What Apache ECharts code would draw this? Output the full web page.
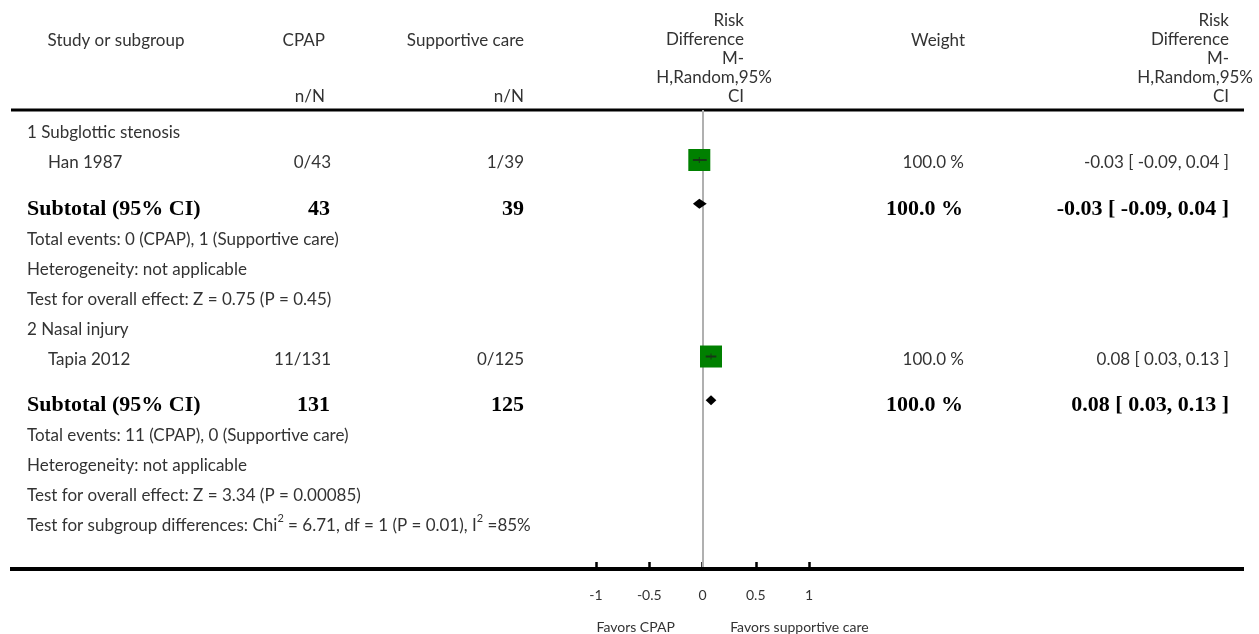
<!DOCTYPE html>
<html>
<head>
<meta charset="utf-8">
<script src="https://cdn.jsdelivr.net/npm/echarts@6/dist/echarts.min.js"></script>
<style>
  html, body { margin: 0; padding: 0; background: #ffffff; }
  #chart { width: 1259px; height: 634px; }
</style>
</head>
<body>
<div id="chart"></div>
<script>
// Risk difference axis
const axisMin = -1;
const axisMax = 1;
const axisStep = 0.5;
const favorsLeft = 'Favors CPAP';
const favorsRight = 'Favors supportive care';

// Subgroups
const groupTitles = ['1 Subglottic stenosis', '2 Nasal injury'];

// Individual studies (one per subgroup)
const studyNames = ['Han 1987', 'Tapia 2012'];
const studyCpap = ['0/43', '11/131'];
const studyCare = ['1/39', '0/125'];
const studyWeight = [100.0, 100.0];
const studyEst = [-0.03, 0.08];
const studyLow = [-0.09, 0.03];
const studyHigh = [0.04, 0.13];

// Subgroup totals
const subtotalCpap = [43, 131];
const subtotalCare = [39, 125];
const subtotalWeight = [100.0, 100.0];
const subtotalEst = [-0.03, 0.08];
const subtotalLow = [-0.09, 0.03];
const subtotalHigh = [0.04, 0.13];

// Subgroup statistics
const totalEvents = ['Total events: 0 (CPAP), 1 (Supportive care)', 'Total events: 11 (CPAP), 0 (Supportive care)'];
const heterogeneity = ['Heterogeneity: not applicable', 'Heterogeneity: not applicable'];
const overallEffect = ['Test for overall effect: Z = 0.75 (P = 0.45)', 'Test for overall effect: Z = 3.34 (P = 0.00085)'];

// ---- layout ----
const FONT = 'Lato, "Open Sans", sans-serif';
const SERIF = '"Liberation Serif", "DejaVu Serif", serif';
const TEXT = '#333333';
const FS = 17;
const GRID_TOP = 110, GRID_BOTTOM_PX = 569;
const ROW_PAD = 0.167, ROW_MAX = 15.3;
const SUBTOTAL_H = 1.55, SUBTOTAL_ANCHOR = 0.62;
const TEXT_DY = 3, BOLD_DY = 5;
const SQUARE_MAX = 22, DIAMOND_HALF_H = 5;

// Build row list (row heights in row units; anchor = where the mark sits inside the row)
const rows = [];
let cursor = ROW_PAD;
function addRow(kind, idx, h, anchor) {
  rows.push({ kind: kind, idx: idx, pos: cursor + h * (anchor == null ? 0.5 : anchor) });
  cursor += h;
}
for (let g = 0; g < groupTitles.length; g++) {
  addRow('title', g, 1);
  addRow('study', g, 1);
  addRow('subtotal', g, SUBTOTAL_H, SUBTOTAL_ANCHOR);
  addRow('events', g, 1);
  addRow('het', g, 1);
  addRow('overall', g, 1);
}
addRow('subgroupTest', 0, 1);

function fmt2(v) { return v.toFixed(2); }
function rdText(e, l, h) { return fmt2(e) + ' [ ' + fmt2(l) + ', ' + fmt2(h) + ' ]'; }

// Forest marks: [est, low, high, rowPos, kind(0 study / 1 subtotal), weight]
const markData = [];
rows.forEach(function (r) {
  if (r.kind === 'study') markData.push([studyEst[r.idx], studyLow[r.idx], studyHigh[r.idx], r.pos, 0, studyWeight[r.idx]]);
  if (r.kind === 'subtotal') markData.push([subtotalEst[r.idx], subtotalLow[r.idx], subtotalHigh[r.idx], r.pos, 1, subtotalWeight[r.idx]]);
});

function renderMark(params, api) {
  const est = api.value(0), lo = api.value(1), hi = api.value(2), row = api.value(3);
  const kind = api.value(4), w = api.value(5);
  const c = api.coord([est, row]);
  const pl = api.coord([lo, row]);
  const ph = api.coord([hi, row]);
  if (kind === 0) {
    const s = SQUARE_MAX * Math.sqrt(w / 100);
    return {
      type: 'group',
      children: [
        { type: 'rect', shape: { x: c[0] - s / 2, y: c[1] - s / 2, width: s, height: s }, style: { fill: '#008000' } },
        { type: 'line', shape: { x1: pl[0], y1: c[1], x2: ph[0], y2: c[1] }, style: { stroke: '#173817', lineWidth: 2 } },
        { type: 'line', shape: { x1: c[0], y1: c[1] - 3, x2: c[0], y2: c[1] + 3 }, style: { stroke: '#173817', lineWidth: 1 } }
      ]
    };
  }
  return {
    type: 'polygon',
    shape: { points: [[pl[0], c[1]], [c[0], c[1] - DIAMOND_HALF_H], [ph[0], c[1]], [c[0], c[1] + DIAMOND_HALF_H]] },
    style: { fill: '#000000' }
  };
}

const chart = echarts.init(document.getElementById('chart'), null, { renderer: 'canvas' });

chart.setOption({
  animation: false,
  backgroundColor: '#ffffff',
  grid: { left: 596, right: 450, top: GRID_TOP, bottom: 634 - GRID_BOTTOM_PX, containLabel: false },
  xAxis: {
    type: 'value', position: 'bottom', min: axisMin, max: axisMax, interval: axisStep,
    axisLine: { show: false, onZero: false },
    splitLine: { show: false },
    axisTick: { show: true, inside: true, length: 7, lineStyle: { color: '#000', width: 2.5 } },
    axisLabel: {
      color: TEXT, fontFamily: FONT, fontSize: 14, margin: 19,
      formatter: function (v) { return String(v); }
    }
  },
  yAxis: {
    type: 'value', inverse: true, min: 0, max: ROW_MAX, show: false
  },
  series: [{
    type: 'custom',
    renderItem: renderMark,
    data: markData,
    clip: false,
    z: 5,
    markLine: {
      silent: true, symbol: 'none', z: 1,
      label: { show: false },
      lineStyle: { color: '#b0b0b0', width: 2, type: 'solid' },
      data: [{ xAxis: 0 }]
    }
  }]
});

// ---- table text ----
const g = [];
function txt(x, y, s, align, opts) {
  opts = opts || {};
  g.push({
    type: 'text', x: x, y: y, silent: true, z: 10,
    style: {
      text: s, x: 0, y: 0,
      align: align, verticalAlign: 'middle',
      fill: opts.color || TEXT,
      font: (opts.bold ? 'bold ' : '') + (opts.size || FS) + 'px ' + (opts.family || FONT)
    }
  });
}
const bold = { bold: true, size: 22, family: SERIF, color: '#000000' };

// horizontal rules
g.push({ type: 'line', silent: true, shape: { x1: 11, y1: 110, x2: 1244, y2: 110 }, style: { stroke: '#000', lineWidth: 3 } });
g.push({ type: 'line', silent: true, shape: { x1: 10, y1: 569, x2: 1244, y2: 569 }, style: { stroke: '#000', lineWidth: 4 }, z: 8 });

// column headers
txt(116, 41, 'Study or subgroup', 'center');
txt(325, 41, 'CPAP', 'right');
txt(325, 97, 'n/N', 'right');
txt(524, 41, 'Supportive care', 'right');
txt(524, 97, 'n/N', 'right');
txt(965, 41, 'Weight', 'right');
const rdHead = ['Risk', 'Difference', 'M-', 'H,Random,95%', 'CI'];
const rdHeadY = [21, 40, 59, 78, 97];
rdHead.forEach(function (s, i) {
  const wide = s.length > 10;
  txt(wide ? 772 : 744, rdHeadY[i], s, 'right');
  txt(wide ? 1253 : 1229, rdHeadY[i], s, 'right');
});

function rowY(pos) { return chart.convertToPixel({ yAxisIndex: 0 }, pos); }

rows.forEach(function (r) {
  const y = rowY(r.pos) + TEXT_DY;
  const i = r.idx;
  if (r.kind === 'title') txt(27, y, groupTitles[i], 'left');
  if (r.kind === 'study') {
    txt(48, y, studyNames[i], 'left');
    txt(331, y, studyCpap[i], 'right');
    txt(524, y, studyCare[i], 'right');
    txt(964, y, studyWeight[i].toFixed(1) + ' %', 'right');
    txt(1229, y, rdText(studyEst[i], studyLow[i], studyHigh[i]), 'right');
  }
  if (r.kind === 'subtotal') {
    const yb = rowY(r.pos) + BOLD_DY;
    txt(27, yb, 'Subtotal (95% CI)', 'left', bold);
    txt(330, yb, String(subtotalCpap[i]), 'right', bold);
    txt(524, yb, String(subtotalCare[i]), 'right', bold);
    txt(963, yb, subtotalWeight[i].toFixed(1) + ' %', 'right', bold);
    txt(1229, yb, rdText(subtotalEst[i], subtotalLow[i], subtotalHigh[i]), 'right', bold);
  }
  if (r.kind === 'events') txt(27, y, totalEvents[i], 'left');
  if (r.kind === 'het') txt(27, y, heterogeneity[i], 'left');
  if (r.kind === 'overall') txt(27, y, overallEffect[i], 'left');
  if (r.kind === 'subgroupTest') {
    g.push({
      type: 'text', x: 27, y: y, silent: true, z: 10,
      style: {
        x: 0, y: 0, align: 'left', verticalAlign: 'middle',
        text: '{t|Test for subgroup differences: Chi}{s|2}{t| = 6.71, df = 1 (P = 0.01), I}{s|2}{t| =85%}',
        rich: {
          t: { fontFamily: FONT, fontSize: FS, fill: TEXT, lineHeight: 26, verticalAlign: 'middle' },
          s: { fontFamily: FONT, fontSize: 11, fill: TEXT, lineHeight: 12, verticalAlign: 'top' }
        }
      }
    });
  }
});

// favours labels under the axis
const zeroX = chart.convertToPixel({ xAxisIndex: 0 }, 0);
const gapX = chart.convertToPixel({ xAxisIndex: 0 }, 0.26) - zeroX;
txt(zeroX - gapX, 627, favorsLeft, 'right', { size: 14 });
txt(zeroX + gapX, 627, favorsRight, 'left', { size: 14 });

chart.setOption({ graphic: { elements: g } });
</script>
</body>
</html>
